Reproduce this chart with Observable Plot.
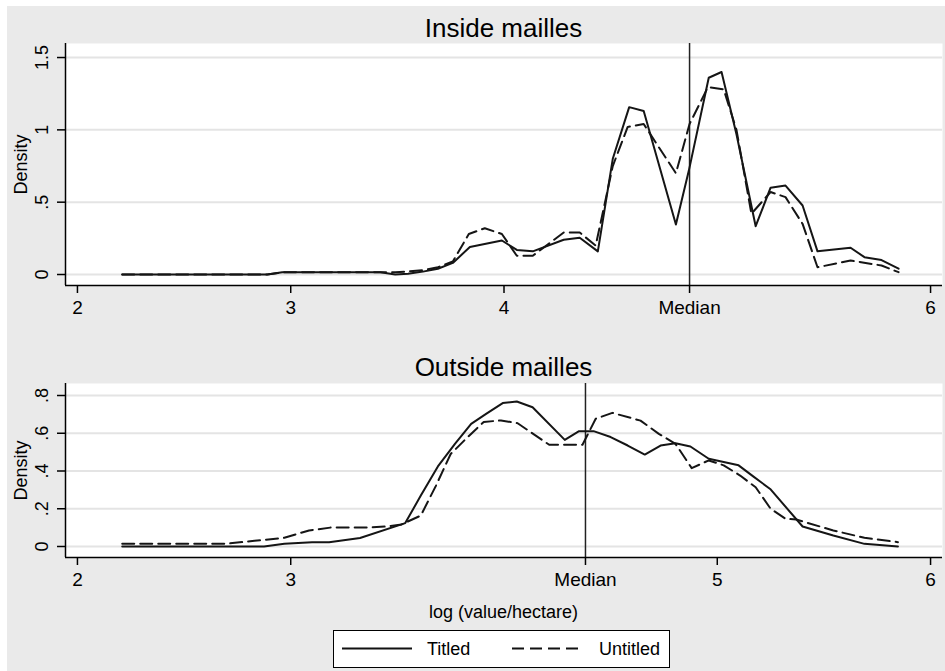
<!DOCTYPE html>
<html>
<head>
<meta charset="utf-8">
<script src="https://cdn.jsdelivr.net/npm/d3@7"></script>
<script src="https://cdn.jsdelivr.net/npm/@observablehq/plot@0.6"></script>
<style>
  html, body { margin: 0; padding: 0; background: #fff; }
  #root { position: relative; width: 945px; height: 671px; overflow: hidden; background: #fff;
          font-family: "Liberation Sans", Arial, Helvetica, sans-serif; color: #000; }
  #bg { position: absolute; left: 7px; top: 6px; right: 0; bottom: 0; background: #eaeaea; }
  .title { position: absolute; left: 65px; width: 877px; text-align: center; font-size: 26px; line-height: 30px; }
  .xtitle { position: absolute; left: 65px; width: 877px; text-align: center; font-size: 18px; line-height: 22px; top: 601px; }
  .panel { position: absolute; left: 0; }
  #legend { position: absolute; left: 333px; top: 630px; width: 337px; height: 38px; box-sizing: border-box;
            border: 1.5px solid #000; background: #fff; font-size: 18px; }
  #legend span { position: absolute; top: 7px; line-height: 22px; }
  #legend svg { position: absolute; left: 0; top: 0; }
</style>
</head>
<body>
<div id="root">
  <div id="bg"></div>
  <div class="title" style="top:13px">Inside mailles</div>
  <div class="panel" id="p1" style="top:0px"></div>
  <div class="title" style="top:352px">Outside mailles</div>
  <div class="panel" id="p2" style="top:340px"></div>
  <div class="xtitle">log (value/hectare)</div>
  <div id="legend">
    <svg width="334" height="35">
      <line x1="8" x2="78" y1="17.5" y2="17.5" stroke="#111" stroke-width="2"></line>
      <line x1="178" x2="248" y1="17.5" y2="17.5" stroke="#111" stroke-width="2" stroke-dasharray="12,6"></line>
    </svg>
    <span style="left:93px">Titled</span>
    <span style="left:265px">Untitled</span>
  </div>
</div>
<script>
// ---------- Data ----------
const seriesNames = ["Titled", "Untitled"];

// Inside mailles
const insideTitledX = [2.21, 2.89, 2.96, 3.42, 3.49, 3.55, 3.62, 3.69, 3.76, 3.84, 3.99, 4.06, 4.135, 4.28, 4.355, 4.44, 4.51, 4.587, 4.655, 4.806, 4.867, 4.96, 5.02, 5.09, 5.18, 5.25, 5.32, 5.40, 5.47, 5.625, 5.69, 5.77, 5.85];
const insideTitledY = [0, 0, 0.015, 0.015, 0.0, 0.005, 0.02, 0.04, 0.08, 0.19, 0.235, 0.17, 0.16, 0.24, 0.254, 0.16, 0.80, 1.157, 1.13, 0.346, 0.72, 1.36, 1.40, 0.97, 0.334, 0.60, 0.615, 0.477, 0.16, 0.185, 0.12, 0.10, 0.04];
const insideUntitledX = [2.21, 2.89, 2.96, 3.49, 3.62, 3.69, 3.76, 3.835, 3.91, 3.99, 4.06, 4.135, 4.28, 4.355, 4.43, 4.51, 4.58, 4.655, 4.806, 4.87, 4.956, 5.03, 5.09, 5.16, 5.25, 5.32, 5.40, 5.47, 5.625, 5.77, 5.85];
const insideUntitledY = [0, 0, 0.015, 0.015, 0.03, 0.05, 0.09, 0.28, 0.32, 0.28, 0.13, 0.13, 0.29, 0.29, 0.20, 0.75, 1.02, 1.04, 0.70, 1.04, 1.295, 1.28, 1.0, 0.42, 0.57, 0.535, 0.35, 0.05, 0.097, 0.062, 0.016];
const insideMedian = 4.87;
const insideYTicks = [0, 0.5, 1, 1.5];
const insideYLabels = ["0", ".5", "1", "1.5"];
const insideXTicks = [2, 3, 4, insideMedian, 6];
const insideXLabels = ["2", "3", "4", "Median", "6"];

// Outside mailles
const outsideTitledX = [2.21, 2.875, 2.97, 3.10, 3.18, 3.325, 3.537, 3.61, 3.69, 3.77, 3.846, 3.916, 3.994, 4.06, 4.134, 4.285, 4.352, 4.42, 4.50, 4.58, 4.66, 4.734, 4.804, 4.874, 4.96, 5.10, 5.17, 5.248, 5.40, 5.544, 5.69, 5.847];
const outsideTitledY = [0, 0, 0.014, 0.023, 0.023, 0.045, 0.124, 0.27, 0.424, 0.544, 0.65, 0.703, 0.76, 0.768, 0.738, 0.565, 0.611, 0.611, 0.58, 0.535, 0.487, 0.535, 0.547, 0.53, 0.465, 0.43, 0.37, 0.305, 0.106, 0.058, 0.014, 0.0];
const outsideUntitledX = [2.21, 2.69, 2.83, 2.97, 3.086, 3.185, 3.34, 3.45, 3.52, 3.61, 3.68, 3.75, 3.83, 3.905, 3.986, 4.064, 4.212, 4.368, 4.43, 4.508, 4.64, 4.726, 4.804, 4.88, 4.96, 5.03, 5.107, 5.18, 5.25, 5.32, 5.37, 5.544, 5.69, 5.847];
const outsideUntitledY = [0.014, 0.014, 0.03, 0.046, 0.085, 0.10, 0.10, 0.106, 0.117, 0.164, 0.32, 0.49, 0.58, 0.66, 0.668, 0.653, 0.539, 0.539, 0.677, 0.708, 0.667, 0.597, 0.544, 0.415, 0.456, 0.43, 0.376, 0.314, 0.2, 0.147, 0.143, 0.085, 0.046, 0.023];
const outsideMedian = 4.382;
const outsideYTicks = [0, 0.2, 0.4, 0.6, 0.8];
const outsideYLabels = ["0", ".2", ".4", ".6", ".8"];
const outsideXTicks = [2, 3, outsideMedian, 5, 6];
const outsideXLabels = ["2", "3", "Median", "5", "6"];

const yAxisTitle = "Density";
const xDomain = [1.944, 6.056];

// ---------- Drawing ----------
const fontFam = '"Liberation Sans", Arial, Helvetica, sans-serif';

function panel(o) {
  const solid = o.xs1.map((x, i) => ({x, y: o.ys1[i], s: seriesNames[0]}));
  const dashed = o.xs2.map((x, i) => ({x, y: o.ys2[i], s: seriesNames[1]}));
  return Plot.plot({
    width: 945, height: o.height,
    marginLeft: 65, marginRight: 3, marginTop: o.marginTop, marginBottom: o.marginBottom,
    style: {background: "transparent", fontFamily: fontFam, fontSize: "18px", color: "#000", overflow: "visible"},
    x: {domain: xDomain},
    y: {domain: o.yDomain},
    marks: [
      Plot.frame({fill: "white", stroke: null}),
      Plot.ruleY(o.yTicks, {stroke: "#e4e4e4", strokeWidth: 2}),
      Plot.ruleX([o.median], {stroke: "#222", strokeWidth: 1.5}),
      Plot.line(dashed, {x: "x", y: "y", stroke: "#151515", strokeWidth: 2, strokeDasharray: "12,6"}),
      Plot.line(solid, {x: "x", y: "y", stroke: "#151515", strokeWidth: 2}),
      Plot.ruleX([xDomain[0]], {stroke: "#000", strokeWidth: 1.5}),
      Plot.ruleY([o.yDomain[0]], {stroke: "#000", strokeWidth: 1.5}),
      Plot.axisX({ticks: o.xTicks, tickFormat: d => o.xLabels[o.xTicks.indexOf(d)], tickSize: 8, tickPadding: 7, label: null, fontSize: 19, strokeWidth: 1.5}),
      Plot.axisY({ticks: o.yTicks, tickFormat: () => "", tickSize: 8, label: null, strokeWidth: 1.5}),
      Plot.text(o.yTicks, {y: d => d, text: (d, i) => o.yLabels[i], frameAnchor: "left", dx: -23, rotate: -90, textAnchor: "middle", fontSize: 18}),
      Plot.text([yAxisTitle], {text: d => d, frameAnchor: "left", dx: -44, rotate: -90, textAnchor: "middle", fontSize: 18})
    ]
  });
}

document.getElementById("p1").append(panel({
  xs1: insideTitledX, ys1: insideTitledY, xs2: insideUntitledX, ys2: insideUntitledY,
  yDomain: [-0.076, 1.597], yTicks: insideYTicks, yLabels: insideYLabels,
  xTicks: insideXTicks, xLabels: insideXLabels, median: insideMedian,
  height: 330, marginTop: 43, marginBottom: 45
}));

document.getElementById("p2").append(panel({
  xs1: outsideTitledX, ys1: outsideTitledY, xs2: outsideUntitledX, ys2: outsideUntitledY,
  yDomain: [-0.0583, 0.8636], yTicks: outsideYTicks, yLabels: outsideYLabels,
  xTicks: outsideXTicks, xLabels: outsideXLabels, median: outsideMedian,
  height: 260, marginTop: 43, marginBottom: 43
}));
</script>
</body>
</html>
